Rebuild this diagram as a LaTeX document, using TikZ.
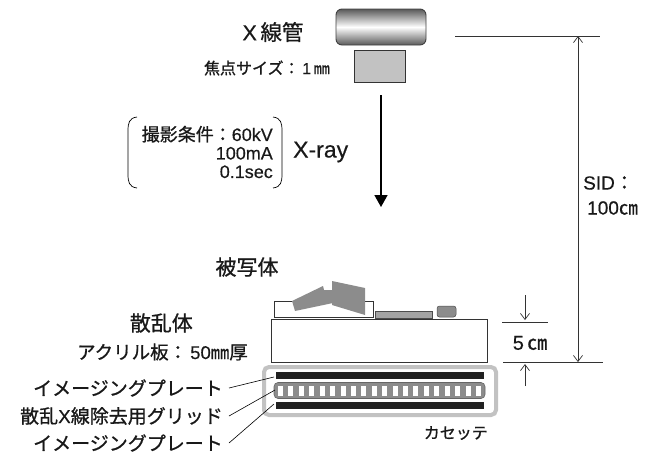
\documentclass[tikz,border=0pt]{standalone}
\usepackage{fontspec}
\setmainfont{Noto Sans CJK JP}[FakeBold=0.9]
\newfontfamily\lat{Liberation Sans}[FakeBold=0.4]
\usetikzlibrary{arrows.meta}

\definecolor{tubeedge}{gray}{0.25}
\definecolor{tubedark}{gray}{0.35}
\definecolor{focusgray}{gray}{0.76}
\definecolor{bodygray}{gray}{0.55}
\definecolor{casegray}{gray}{0.76}
\definecolor{gridgray}{gray}{0.55}
\definecolor{bargray}{gray}{0.13}
\definecolor{linegray}{gray}{0.2}

\tikzset{
  txt/.style={inner sep=0pt, text=black!90},
  bigtxt/.style={txt, font=\fontsize{21}{23}\selectfont},
  midtxt/.style={txt, font=\fontsize{19}{21}\selectfont},
  smalltxt/.style={txt, font=\fontsize{16}{18}\selectfont},
  dimline/.style={line width=0.7pt, draw=linegray},
  barb/.tip={Straight Barb[length=6pt,width=9pt,line width=0.7pt]},
  leader/.style={line width=0.6pt, draw=black},
  platebar/.style={fill=bargray, draw=none},
}

\begin{document}
\begin{tikzpicture}[x=1pt,y=-1pt]
\useasboundingbox (0,0) rectangle (654,456);

% X-ray tube and focal spot
\node[draw=tubeedge, line width=0.9pt, rounded corners=6pt,
      minimum width=90pt, minimum height=36pt,
      top color=tubedark, bottom color=tubedark, middle color=white] (tube) at (381,27) {};
\node[draw=black!80, line width=0.7pt, fill=focusgray,
      minimum width=51pt, minimum height=32pt] (focus) at (379.5,66) {};
\node[txt, font=\fontsize{21.5}{23}\selectfont] (tubelbl) at (273,32) {{\lat X}\,線管};
\node[smalltxt, anchor=east] (focallbl) at (330,68) {焦点サイズ：\,{\lat 1}\,㎜};

% beam
\coordinate (beamtop) at (381,95);
\coordinate (beambot) at (381,207);
\draw[line width=1.7pt, -{Triangle[length=12pt,width=13pt]}] (beamtop) -- (beambot);
\node[txt, font=\fontsize{23}{25}\selectfont\lat, anchor=west] (xray) at (293,152) {X-ray};

% exposure conditions in brackets
\node[txt, font=\fontsize{18}{18.5}\selectfont, align=right, anchor=east] (cond) at (273,152)
  {撮影条件：{\lat 60kV}\\{\lat 100mA}\\{\lat 0.1sec}};
\draw[line width=0.7pt] (137,117) .. controls (129,118) and (128,123) .. (128,131)
  -- (128,174) .. controls (128,182) and (129,187) .. (137,188);
\draw[line width=0.7pt] (273,117) .. controls (281,118) and (282,123) .. (282,131)
  -- (282,174) .. controls (282,182) and (281,187) .. (273,188);

% subject
\node[bigtxt] (subjlbl) at (247,267) {被写体};
\node[draw=black!80, line width=0.6pt, minimum width=99pt, minimum height=16pt] (tray) at (323.5,309) {};
\fill[bodygray] (292,301) -- (323,286) -- (324,290) -- (333,290) -- (333,303) -- (295,311) -- cycle;
\fill[bodygray] (332,281) -- (365,288) -- (365,315) -- (332,305) -- cycle;
\node[draw=black!70, line width=0.5pt, fill=bodygray!80, minimum width=57pt, minimum height=4pt] (strip) at (403.5,315) {};
\node[draw=black!70, line width=0.5pt, fill=bodygray, rounded corners=2.5pt,
      minimum width=19pt, minimum height=11pt] (marker) at (446.5,311.5) {};

% scatter block (acrylic)
\node[draw=black!80, line width=0.7pt, minimum width=216pt, minimum height=43pt] (acryl) at (379.5,340.5) {};
\node[bigtxt, anchor=east] (scatlbl) at (193,323) {散乱体};
\node[txt, font=\fontsize{18.5}{20}\selectfont, anchor=east] (acryllbl) at (248,352) {アクリル板：\,{\lat 50}㎜厚};

% cassette with imaging plates and grid
\node[draw=casegray, line width=4pt, rounded corners=5pt,
      minimum width=232pt, minimum height=48pt] (cassette) at (380,391) {};
\node[platebar, minimum width=208pt, minimum height=5.5pt] (ipup) at (380,375.5) {};
\node[draw=black!60, line width=0.6pt, fill=gridgray, rounded corners=4pt,
      minimum width=211pt, minimum height=16pt] (grid) at (379.5,390.5) {};
\foreach \i in {0,...,19}
  \fill[white] ({278+\i*10.42},385.5) rectangle ++(5,10);
\node[platebar, minimum width=208pt, minimum height=5.5pt] (iplow) at (380,405.5) {};
\node[smalltxt, anchor=east] (caslbl) at (488,433) {カセッテ};

% labels with leader lines
\node[midtxt, anchor=east] (ipuplbl) at (223,388) {イメージングプレート};
\node[midtxt, anchor=east] (gridlbl) at (223,416) {散乱{\lat X}線除去用グリッド};
\node[midtxt, anchor=east] (iplowlbl) at (223,443) {イメージングプレート};
\coordinate (ipupend) at (274,377);
\coordinate (gridend) at (275,390);
\coordinate (iplowend) at (274,404);
\draw[leader] ([xshift=6pt]ipuplbl.east) -- (ipupend);
\draw[leader] ([xshift=6pt]gridlbl.east) -- (gridend);
\draw[leader] ([xshift=6pt]iplowlbl.east) -- (iplowend);

% SID dimension
\coordinate (sidlineL) at (455,36);
\coordinate (sidlineR) at (600,36);
\coordinate (baseL) at (503,362);
\coordinate (baseR) at (603,362);
\coordinate (sidtop) at (578,36);
\coordinate (sidbot) at (578,362);
\draw[dimline] (sidlineL) -- (sidlineR);
\draw[dimline] (baseL) -- (baseR);
\draw[dimline, barb-barb] (sidtop) -- (sidbot);
\node[midtxt, anchor=west] (sidlbl) at (583,183) {{\lat SID}：};
\node[midtxt, anchor=west] (sidval) at (587,208) {{\lat 100}㎝};

% acrylic thickness dimension
\coordinate (thkL) at (502,322);
\coordinate (thkR) at (548,322);
\coordinate (thkA) at (525,295);
\coordinate (thkB) at (525,320);
\coordinate (thkC) at (525,386);
\coordinate (thkD) at (525,364);
\draw[dimline] (thkL) -- (thkR);
\draw[dimline, -barb] (thkA) -- (thkB);
\draw[dimline, -barb] (thkC) -- (thkD);
\node[txt, font=\fontsize{20}{22}\selectfont] (thklbl) at (530,343) {{\lat 5}\,㎝};
\end{tikzpicture}
\end{document}
